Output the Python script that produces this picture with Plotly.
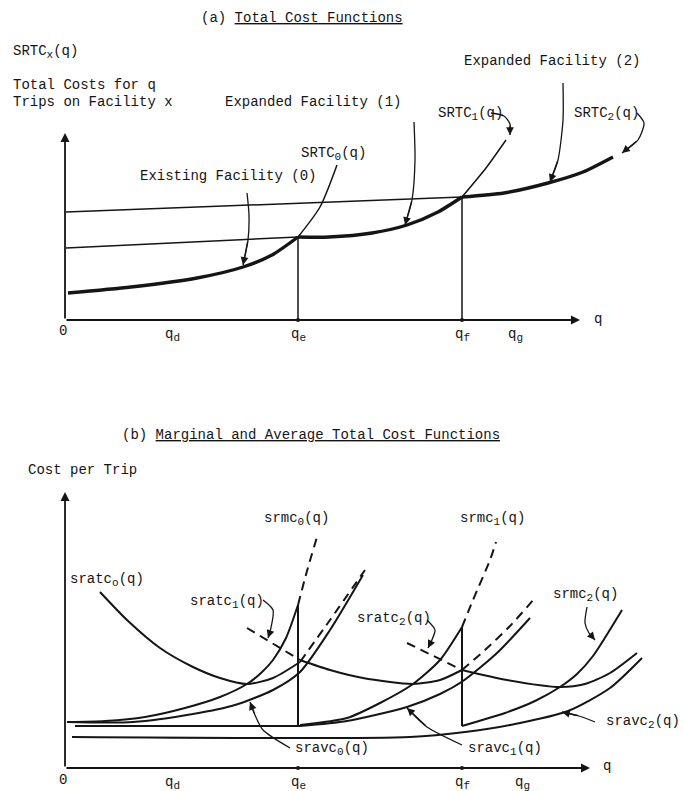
import plotly.graph_objects as go

INK = "#151515"
FONT = "Liberation Mono"

# ---------------- switching volumes on the q axis ----------------
q_ticks_a = {"d": 107, "e": 233, "f": 397, "g": 450}
q_ticks_b = {"d": 107, "e": 233, "f": 397, "g": 457}
Q_E, Q_F = 233, 397

# ---------------- panel (a): total cost functions ----------------
srtc0_q = [3, 66, 132, 178, 207, 233]
srtc0_c = [27, 33, 42, 53, 65, 83]
srtc0_ext_q = [233, 255, 272]
srtc0_ext_c = [83, 113, 155]

srtc1_lo_q = [1, 233]
srtc1_lo_c = [72, 83]
srtc1_q = [233, 264, 307, 342, 373, 397]
srtc1_c = [83, 83, 87, 95, 108, 123]
srtc1_ext_q = [397, 421, 441]
srtc1_ext_c = [123, 152, 180]

srtc2_lo_q = [1, 397]
srtc2_lo_c = [108, 123]
srtc2_q = [397, 439, 483, 518, 548]
srtc2_c = [123, 127, 137, 148, 163]

# ---------------- panel (b): marginal and average cost functions ----------------
srmc0_q = [2, 40, 80, 120, 155, 182, 196, 208, 221, 233]
srmc0_c = [46, 47, 51, 60, 71, 84, 95, 108, 130, 163]
srmc0_ext_q = [233, 242, 252]
srmc0_ext_c = [163, 197, 231]

sravc0_q = [2, 68, 128, 170, 208, 235, 265, 298]
sravc0_c = [46, 46, 54, 63, 78, 96, 138, 193]

sratc0_q = [35, 62, 95, 128, 155, 182, 208, 235]
sratc0_c = [176, 148, 120, 101, 90, 84, 90, 106]
sratc0_ext_q = [235, 265, 300]
sratc0_ext_c = [106, 148, 198]

sratc1_pre_q = [182, 235]
sratc1_pre_c = [140, 108]
sratc1_q = [235, 265, 298, 348, 375, 397]
sratc1_c = [108, 98, 90, 84, 88, 98]
sratc1_ext_q = [397, 420, 445, 470]
sratc1_ext_c = [98, 118, 142, 170]

sravc1_flat_q = [10, 235]
sravc1_flat_c = [42, 42]
sravc1_q = [235, 282, 342, 375, 398, 432, 465]
sravc1_c = [42, 47, 61, 74, 87, 115, 150]

srmc1_q = [235, 282, 315, 348, 375, 397]
srmc1_c = [43, 50, 65, 84, 108, 141]
srmc1_ext_q = [397, 408, 425, 431]
srmc1_ext_c = [141, 168, 208, 226]

sratc2_pre_q = [342, 397]
sratc2_pre_c = [125, 98]
sratc2_q = [397, 442, 495, 520, 545, 572]
sratc2_c = [98, 88, 81, 84, 95, 115]

sravc2_q = [7, 345, 400, 450, 503, 545, 577]
sravc2_c = [31, 31, 36, 44, 57, 80, 110]

srmc2_q = [397, 440, 470, 495, 512, 528, 557]
srmc2_c = [42, 55, 67, 81, 94, 112, 158]

fig = go.Figure()


def sub(s):
    return "<sub><span style='font-size:11px'>" + s + "</span></sub>"


def curve(q, c, xa, ya, width=2.0, dash="solid", shape="spline"):
    fig.add_trace(go.Scatter(
        x=q, y=c, mode="lines", xaxis=xa, yaxis=ya,
        line=dict(color=INK, width=width, dash=dash, shape=shape, smoothing=0.7),
        hoverinfo="skip", showlegend=False))


def label(text, x, y, xr, yr, xanchor="left", yanchor="middle", size=14):
    fig.add_annotation(text=text, x=x, y=y, xref=xr, yref=yr, xanchor=xanchor,
                       yanchor=yanchor, showarrow=False,
                       font=dict(family=FONT, size=size, color=INK))


def arrow(x0, y0, x1, y1, xr, yr, width=1.4, size=1.0):
    fig.add_annotation(x=x1, y=y1, ax=x0, ay=y0, xref=xr, yref=yr, axref=xr, ayref=yr,
                       text="", showarrow=True, arrowhead=2, arrowsize=size,
                       arrowwidth=width, arrowcolor=INK, standoff=0)


def pointer(q, c, xr, yr):
    curve(q, c, xr, yr, width=1.3)
    arrow(q[-2], c[-2], q[-1], c[-1], xr, yr, width=1.3, size=1.2)


DASH = "9px,6px"

# ======== panel (a) ========
xa, ya = "x", "y"
arrow(0, 0, 0, 187, xa, ya, width=1.8, size=1.0)
arrow(0, 0, 515, 0, xa, ya, width=1.8, size=1.0)
curve(srtc0_q, srtc0_c, xa, ya, width=3.4)
curve(srtc0_ext_q, srtc0_ext_c, xa, ya, width=1.5)
curve(srtc1_lo_q, srtc1_lo_c, xa, ya, width=1.5, shape="linear")
curve(srtc1_q, srtc1_c, xa, ya, width=3.4)
curve(srtc1_ext_q, srtc1_ext_c, xa, ya, width=1.5)
curve(srtc2_lo_q, srtc2_lo_c, xa, ya, width=1.5, shape="linear")
curve(srtc2_q, srtc2_c, xa, ya, width=3.4)
curve([Q_E, Q_E], [0, srtc1_c[0]], xa, ya, width=1.5, shape="linear")
curve([Q_F, Q_F], [0, srtc2_c[0]], xa, ya, width=1.5, shape="linear")
fig.add_trace(go.Scatter(x=[Q_E, Q_F], y=[0, 0], mode="markers", xaxis=xa, yaxis=ya,
                         marker=dict(color=INK, size=4), hoverinfo="skip", showlegend=False))

pointer([182, 184, 183, 178], [127, 105, 80, 55], xa, ya)
pointer([349, 350, 347, 340], [198, 160, 120, 95], xa, ya)
pointer([498, 498, 493, 485], [237, 200, 160, 138], xa, ya)
pointer([426, 439, 445, 445], [207, 204, 196, 185], xa, ya)
pointer([572, 579, 573, 557], [207, 197, 180, 167], xa, ya)

label("(a) <u>Total Cost Functions</u>", 134, 302, xa, ya)
label("SRTC" + sub("x") + "(q)", -54, 268, xa, ya)
label("Total Costs for q", -54, 235, xa, ya)
label("Trips on Facility x", -54, 218, xa, ya)
label("Expanded Facility (1)", 158, 218, xa, ya)
label("Expanded Facility (2)", 397, 259, xa, ya)
label("SRTC" + sub("1") + "(q)", 371, 206, xa, ya)
label("SRTC" + sub("2") + "(q)", 507, 206, xa, ya)
label("SRTC" + sub("0") + "(q)", 234, 166, xa, ya)
label("Existing Facility (0)", 73, 144, xa, ya)
label("q", 527, 1, xa, ya)
label("0", -2, -11, xa, ya, xanchor="center")
for t, qv in q_ticks_a.items():
    label("q" + sub(t), qv, -15, xa, ya, xanchor="center")

# ======== panel (b) ========
xb, yb = "x2", "y2"
arrow(0, 0, 0, 276, xb, yb, width=1.8, size=1.0)
arrow(0, 0, 525, 0, xb, yb, width=1.8, size=1.0)

curve(srmc0_q, srmc0_c, xb, yb)
curve(srmc0_ext_q, srmc0_ext_c, xb, yb, dash=DASH)
curve(sravc0_q, sravc0_c, xb, yb)
curve(sratc0_q, sratc0_c, xb, yb)
curve(sratc0_ext_q, sratc0_ext_c, xb, yb, dash=DASH)

curve(sratc1_pre_q, sratc1_pre_c, xb, yb, dash=DASH, shape="linear")
curve(sratc1_q, sratc1_c, xb, yb)
curve(sratc1_ext_q, sratc1_ext_c, xb, yb, dash=DASH)
curve(sravc1_flat_q, sravc1_flat_c, xb, yb, shape="linear")
curve(sravc1_q, sravc1_c, xb, yb)
curve(srmc1_q, srmc1_c, xb, yb)
curve(srmc1_ext_q, srmc1_ext_c, xb, yb, dash=DASH)

curve(sratc2_pre_q, sratc2_pre_c, xb, yb, dash=DASH, shape="linear")
curve(sratc2_q, sratc2_c, xb, yb)
curve(sravc2_q, sravc2_c, xb, yb)
curve(srmc2_q, srmc2_c, xb, yb)

curve([Q_E, Q_E], [srmc0_c[-1], sravc1_flat_c[-1]], xb, yb, shape="linear")
curve([Q_F, Q_F], [srmc1_c[-1], srmc2_c[0]], xb, yb, shape="linear")
fig.add_trace(go.Scatter(x=[Q_E, Q_F], y=[0, 0], mode="markers", xaxis=xb, yaxis=yb,
                         marker=dict(color=INK, size=4), hoverinfo="skip", showlegend=False))

pointer([198, 208, 205, 203], [168, 158, 136, 130], xb, yb)
pointer([362, 370, 366, 363], [148, 138, 126, 120], xb, yb)
pointer([522, 520, 524, 530], [161, 145, 135, 128], xb, yb)
pointer([530, 514, 497], [46, 52, 56], xb, yb)
pointer([225, 198, 190, 185], [20, 38, 53, 66], xb, yb)
pointer([397, 362, 342], [23, 41, 60], xb, yb)

label("(b) <u>Marginal and Average Total Cost Functions</u>", 55, 333, xb, yb)
label("Cost per Trip", -39, 298, xb, yb)
label("srmc" + sub("0") + "(q)", 197, 249, xb, yb)
label("srmc" + sub("1") + "(q)", 393, 249, xb, yb)
label("sratc" + sub("o") + "(q)", 3, 188, xb, yb)
label("sratc" + sub("1") + "(q)", 123, 166, xb, yb)
label("sratc" + sub("2") + "(q)", 290, 149, xb, yb)
label("srmc" + sub("2") + "(q)", 486, 173, xb, yb)
label("sravc" + sub("2") + "(q)", 617, 46, xb, yb, xanchor="right")
label("sravc" + sub("0") + "(q)", 228, 19, xb, yb)
label("sravc" + sub("1") + "(q)", 401, 19, xb, yb)
label("q", 536, 2, xb, yb)
label("0", -2, -12, xb, yb, xanchor="center")
for t, qv in q_ticks_b.items():
    label("q" + sub(t), qv, -15, xb, yb, xanchor="center")

fig.update_layout(
    width=683, height=791, margin=dict(l=0, r=0, t=0, b=0),
    paper_bgcolor="white", plot_bgcolor="white", showlegend=False,
    xaxis=dict(domain=[0, 1], range=[-65, 618], visible=False, anchor="y"),
    yaxis=dict(domain=[1 - 395 / 791, 1], range=[-75, 320], visible=False, anchor="x"),
    xaxis2=dict(domain=[0, 1], range=[-65, 618], visible=False, anchor="y2"),
    yaxis2=dict(domain=[0, 1 - 395 / 791], range=[-23, 373], visible=False, anchor="x2"),
)

fig.write_html("out.html")
